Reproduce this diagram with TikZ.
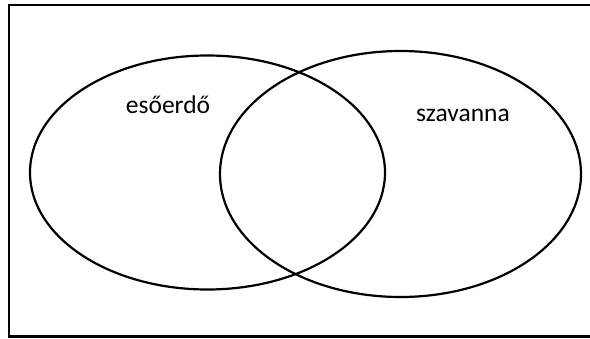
\documentclass[tikz,border=0pt]{standalone}
\usepackage{fontspec}
\setmainfont{Carlito}
\begin{document}
\begin{tikzpicture}[
  x=1pt,y=-1pt,
  set/.style={draw=black,line width=2.2pt},
  frame/.style={draw=black,line width=2.4pt},
  setlabel/.style={font=\fontsize{25.5}{30}\selectfont,anchor=base,inner sep=0pt}
]
\useasboundingbox (0,0) rectangle (590,338);
\clip (0,0) rectangle (590,338);
% frame, open on the right
\draw[frame] (9,5) rectangle (600,336.5);
% the two sets
\draw[set] (207.5,172.5) ellipse [x radius=177.5pt,y radius=117pt];
\draw[set] (400.5,174) ellipse [x radius=180.5pt,y radius=123pt];
% labels
\node[setlabel] (rain) at (168,113) {esőerdő};
\node[setlabel] (sav) at (463,121) {szavanna};
\end{tikzpicture}
\end{document}
